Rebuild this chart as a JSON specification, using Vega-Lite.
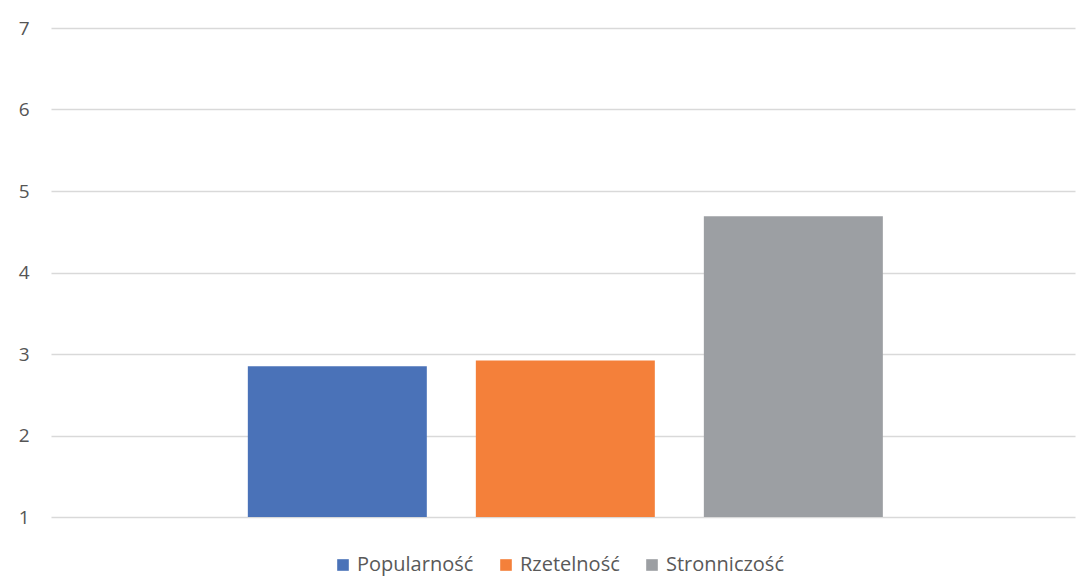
{
  "$schema": "https://vega.github.io/schema/vega-lite/v6.json",
  "width": 1024,
  "height": 489,
  "autosize": {"type": "none"},
  "padding": {"left": 51, "top": 28, "right": 13, "bottom": 68},
  "background": "white",
  "config": {
    "view": {"stroke": null},
    "font": "Open Sans"
  },
  "data": {
    "values": [
      {"seria": "Popularność", "wartosc": 2.85},
      {"seria": "Rzetelność", "wartosc": 2.92},
      {"seria": "Stronniczość", "wartosc": 4.69}
    ]
  },
  "mark": {"type": "bar"},
  "encoding": {
    "x": {
      "field": "seria",
      "type": "nominal",
      "sort": null,
      "scale": {"paddingInner": 0.215, "paddingOuter": 0.853, "align": 0.506},
      "axis": null
    },
    "y": {
      "field": "wartosc",
      "type": "quantitative",
      "scale": {"domain": [1, 7], "nice": false, "zero": false},
      "axis": {
        "title": null,
        "values": [1, 2, 3, 4, 5, 6, 7],
        "domain": false,
        "ticks": false,
        "grid": true,
        "gridColor": "#d9d9d9",
        "gridWidth": 1.3,
        "labelFontSize": 19,
        "labelColor": "#555555",
        "labelPadding": 22,
        "labelFont": "Open Sans"
      }
    },
    "y2": {"datum": 1},
    "color": {
      "field": "seria",
      "type": "nominal",
      "sort": null,
      "scale": {
        "domain": ["Popularność", "Rzetelność", "Stronniczość"],
        "range": ["#4a72b8", "#f4803a", "#9c9fa3"]
      },
      "legend": {
        "title": null,
        "orient": "none",
        "legendX": 282,
        "legendY": 527,
        "padding": 0,
        "direction": "horizontal",
        "symbolType": "square",
        "symbolSize": 135,
        "symbolStrokeWidth": 0,
        "symbolOpacity": 1,
        "labelFontSize": 20,
        "labelColor": "#595959",
        "labelFont": "Open Sans",
        "columnPadding": 22,
        "labelOffset": 4
      }
    }
  }
}
